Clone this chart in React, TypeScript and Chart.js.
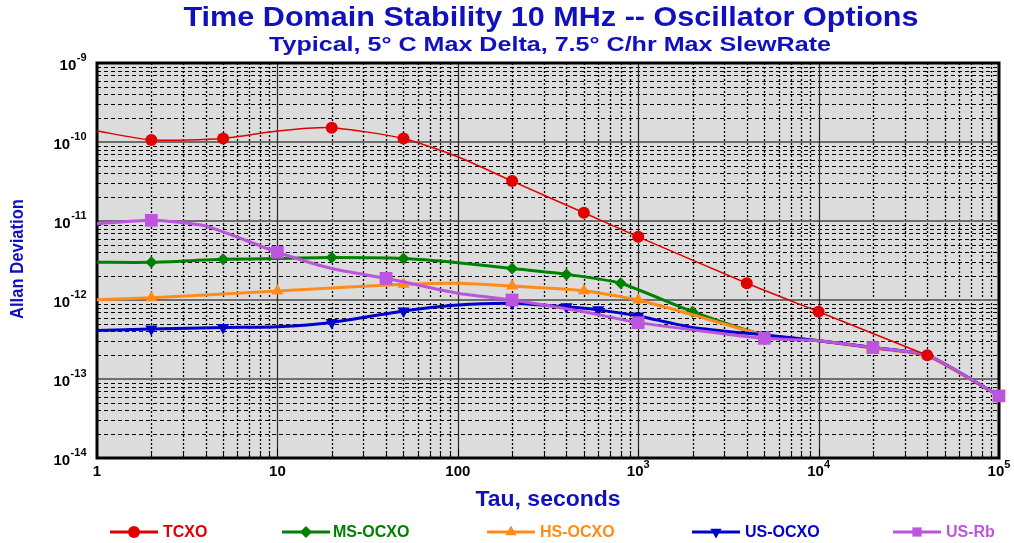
import { useEffect, useRef } from "react";
import { Chart, registerables } from "chart.js";

Chart.register(...registerables);

// ---------- text ----------
const TITLE = "Time Domain Stability 10 MHz -- Oscillator Options";
const SUBTITLE = "Typical, 5° C Max Delta, 7.5° C/hr Max SlewRate";
const X_TITLE = "Tau, seconds";
const Y_TITLE = "Allan Deviation";

// ---------- data ----------
const SERIES_NAMES = ["TCXO", "MS-OCXO", "HS-OCXO", "US-OCXO", "US-Rb"];

const TCXO_TAU = [1, 2, 5, 10, 20, 50, 100, 200, 500, 1000, 4000, 10000, 40000];
const TCXO_VAL = [1.38e-10, 1.06e-10, 1.11e-10, 1.38e-10, 1.52e-10, 1.11e-10, 6.5e-11, 3.2e-11, 1.27e-11, 6.3e-12, 1.63e-12, 7.1e-13, 2.0e-13];
const TCXO_MARK = [2, 5, 20, 50, 200, 500, 1000, 4000, 10000, 40000];

const MSOCXO_TAU = [1, 2, 5, 10, 20, 50, 100, 200, 400, 800, 2000, 5000, 10000, 20000, 40000, 100000];
const MSOCXO_VAL = [3.0e-12, 3.0e-12, 3.27e-12, 3.35e-12, 3.44e-12, 3.35e-12, 2.97e-12, 2.51e-12, 2.11e-12, 1.63e-12, 7.1e-13, 3.6e-13, 3.05e-13, 2.5e-13, 2.0e-13, 6.1e-14];
const MSOCXO_MARK = [2, 5, 20, 50, 200, 400, 800, 2000];

const HSOCXO_TAU = [1, 2, 10, 50, 100, 200, 500, 1000, 2000, 5000, 10000, 20000, 40000, 100000];
const HSOCXO_VAL = [1.01e-12, 1.07e-12, 1.3e-12, 1.58e-12, 1.63e-12, 1.5e-12, 1.31e-12, 1.0e-12, 6.5e-13, 3.6e-13, 3.05e-13, 2.45e-13, 1.95e-13, 6.1e-14];
const HSOCXO_MARK = [2, 10, 50, 200, 500, 1000];

const USOCXO_TAU = [1, 2, 5, 10, 20, 50, 100, 200, 400, 600, 1000, 2000, 5000, 10000, 20000, 40000, 100000];
const USOCXO_VAL = [4.1e-13, 4.3e-13, 4.5e-13, 4.6e-13, 5.2e-13, 7.26e-13, 8.65e-13, 9.1e-13, 8.2e-13, 7.5e-13, 6.27e-13, 4.5e-13, 3.6e-13, 3.05e-13, 2.5e-13, 2.0e-13, 6.1e-14];
const USOCXO_MARK = [2, 5, 20, 50, 200, 400, 600, 1000, 5000];

const USRB_TAU = [1, 2, 4, 10, 20, 40, 100, 200, 500, 1000, 5000, 10000, 20000, 40000, 100000];
const USRB_VAL = [9.2e-12, 1.02e-11, 8.65e-12, 4.02e-12, 2.5e-12, 1.88e-12, 1.22e-12, 1.0e-12, 7.1e-13, 5.17e-13, 3.27e-13, 3.05e-13, 2.5e-13, 2.0e-13, 6.1e-14];
const USRB_MARK = [2, 10, 40, 200, 1000, 5000, 20000, 100000];

const X_TICKS = [1, 10, 100, 1000, 10000, 100000];
const X_TICK_BASE = ["1", "10", "100", "10", "10", "10"];
const X_TICK_EXP = ["", "", "", "3", "4", "5"];
const Y_TICKS = [1e-9, 1e-10, 1e-11, 1e-12, 1e-13, 1e-14];
const Y_TICK_BASE = ["10", "10", "10", "10", "10", "10"];
const Y_TICK_EXP = ["-9", "-10", "-11", "-12", "-13", "-14"];

// ---------- styles ----------
const COLORS = ["#e00000", "#008000", "#ff8c1a", "#0000cc", "#bb55dd"];
const TITLE_COLOR = "#1010c0";
const FONT = "'Liberation Sans', Arial, sans-serif";

type Marker = "circle" | "diamond" | "tri" | "triDown" | "square";
const MARKERS: Marker[] = ["circle", "diamond", "tri", "triDown", "square"];
const MARKER_R = [6, 6, 7, 7, 9];
const LINE_W = [1.5, 3, 3, 3, 3];
const LEGEND_LINE_X = [110, 282, 487, 692, 893];
const LEGEND_TEXT_X = [163, 333, 540, 745, 946];

function drawMarker(ctx: CanvasRenderingContext2D, kind: Marker, x: number, y: number, r: number, color: string) {
  ctx.save();
  ctx.fillStyle = color;
  ctx.beginPath();
  if (kind === "circle") {
    ctx.arc(x, y, r, 0, Math.PI * 2);
  } else if (kind === "diamond") {
    ctx.moveTo(x, y - r);
    ctx.lineTo(x + r, y);
    ctx.lineTo(x, y + r);
    ctx.lineTo(x - r, y);
    ctx.closePath();
  } else if (kind === "tri" || kind === "triDown") {
    const s = kind === "tri" ? 1 : -1;
    for (let i = 0; i < 3; i++) {
      const a = -Math.PI / 2 + (i * 2 * Math.PI) / 3;
      const px = x + r * Math.cos(a);
      const py = y + s * r * Math.sin(a);
      if (i === 0) ctx.moveTo(px, py);
      else ctx.lineTo(px, py);
    }
    ctx.closePath();
  } else {
    const h = r * Math.SQRT1_2;
    ctx.rect(x - h, y - h, 2 * h, 2 * h);
  }
  ctx.fill();
  ctx.restore();
}

function drawFitText(
  ctx: CanvasRenderingContext2D,
  text: string,
  x: number,
  y: number,
  font: string,
  color: string,
  align: CanvasTextAlign,
  width?: number,
  rotate?: number
) {
  ctx.save();
  ctx.font = font;
  ctx.fillStyle = color;
  ctx.textBaseline = "middle";
  ctx.textAlign = align;
  const w = ctx.measureText(text).width;
  ctx.translate(x, y);
  if (rotate) ctx.rotate(rotate);
  if (width) ctx.scale(width / w, 1);
  ctx.fillText(text, 0, 0);
  ctx.restore();
}

const gridPlugin = {
  id: "customGrid",
  beforeDatasetsDraw(chart: any) {
    const { ctx, chartArea: a, scales } = chart;
    const x = scales.x;
    const y = scales.y;
    ctx.save();
    ctx.fillStyle = "#dcdcdc";
    ctx.fillRect(a.left, a.top, a.right - a.left, a.bottom - a.top);

    // minor horizontal dashed
    ctx.strokeStyle = "#000000";
    ctx.lineWidth = 1;
    ctx.setLineDash([4, 3]);
    for (let e = -14; e < -9; e++) {
      for (let m = 2; m <= 9; m++) {
        const py = Math.round(y.getPixelForValue(m * Math.pow(10, e))) + 0.5;
        ctx.beginPath();
        ctx.moveTo(a.left, py);
        ctx.lineTo(a.right, py);
        ctx.stroke();
      }
    }
    // minor vertical dotted
    ctx.setLineDash([2, 2]);
    ctx.lineWidth = 1.3;
    for (let e = 0; e < 5; e++) {
      for (let m = 2; m <= 9; m++) {
        const px = Math.round(x.getPixelForValue(m * Math.pow(10, e))) + 0.5;
        ctx.beginPath();
        ctx.moveTo(px, a.top);
        ctx.lineTo(px, a.bottom);
        ctx.stroke();
      }
    }
    ctx.setLineDash([]);
    // decade horizontal
    ctx.strokeStyle = "#6e6e6e";
    ctx.lineWidth = 2;
    for (let e = -13; e <= -10; e++) {
      const py = Math.round(y.getPixelForValue(Math.pow(10, e)));
      ctx.beginPath();
      ctx.moveTo(a.left, py);
      ctx.lineTo(a.right, py);
      ctx.stroke();
    }
    // decade vertical
    ctx.strokeStyle = "#2a2a2a";
    ctx.lineWidth = 1.2;
    for (let e = 1; e <= 4; e++) {
      const px = Math.round(x.getPixelForValue(Math.pow(10, e))) + 0.5;
      ctx.beginPath();
      ctx.moveTo(px, a.top);
      ctx.lineTo(px, a.bottom);
      ctx.stroke();
    }
    // bottom minor ticks
    ctx.strokeStyle = "#000000";
    ctx.lineWidth = 1;
    for (let e = 0; e < 5; e++) {
      for (let m = 1; m <= 9; m++) {
        const px = Math.round(x.getPixelForValue(m * Math.pow(10, e))) + 0.5;
        ctx.beginPath();
        ctx.moveTo(px, a.bottom);
        ctx.lineTo(px, a.bottom - (m === 1 ? 9 : 6));
        ctx.stroke();
      }
    }
    // border
    ctx.strokeStyle = "#000000";
    ctx.lineWidth = 3;
    ctx.strokeRect(a.left, a.top, a.right - a.left, a.bottom - a.top);
    ctx.restore();
  },
  afterDraw(chart: any) {
    const { ctx, scales } = chart;
    const x = scales.x;
    const y = scales.y;

    drawFitText(ctx, TITLE, 551, 18, `bold 28px ${FONT}`, TITLE_COLOR, "center", 735);
    drawFitText(ctx, SUBTITLE, 550, 45, `bold 21px ${FONT}`, TITLE_COLOR, "center", 562);
    drawFitText(ctx, X_TITLE, 548, 500, `bold 22px ${FONT}`, TITLE_COLOR, "center", 145);
    drawFitText(ctx, Y_TITLE, 18, 259, `bold 19px ${FONT}`, TITLE_COLOR, "center", 120, -Math.PI / 2);

    const baseFont = `bold 15px ${FONT}`;
    const expFont = `bold 11px ${FONT}`;
    ctx.save();
    ctx.fillStyle = "#000000";
    ctx.textBaseline = "middle";
    ctx.textAlign = "left";
    // x tick labels
    X_TICKS.forEach((v, i) => {
      const px = x.getPixelForValue(v);
      ctx.font = baseFont;
      const bw = ctx.measureText(X_TICK_BASE[i]).width;
      ctx.font = expFont;
      const ew = X_TICK_EXP[i] ? ctx.measureText(X_TICK_EXP[i]).width : 0;
      const start = px - (bw + ew) / 2;
      ctx.font = baseFont;
      ctx.fillText(X_TICK_BASE[i], start, 472);
      if (ew) {
        ctx.font = expFont;
        ctx.fillText(X_TICK_EXP[i], start + bw, 465);
      }
    });
    // y tick labels
    Y_TICKS.forEach((v, i) => {
      const py = y.getPixelForValue(v);
      ctx.font = baseFont;
      const bw = ctx.measureText(Y_TICK_BASE[i]).width;
      ctx.font = expFont;
      const ew = ctx.measureText(Y_TICK_EXP[i]).width;
      const start = 86 - bw - ew;
      ctx.font = baseFont;
      ctx.fillText(Y_TICK_BASE[i], start, py + 3);
      ctx.font = expFont;
      ctx.fillText(Y_TICK_EXP[i], start + bw + 0.5, py - 5);
    });
    ctx.restore();

    // legend
    SERIES_NAMES.forEach((name, i) => {
      const x1 = LEGEND_LINE_X[i];
      const x2 = x1 + 48;
      const ly = 532;
      ctx.save();
      ctx.strokeStyle = COLORS[i];
      ctx.lineWidth = 3;
      ctx.beginPath();
      ctx.moveTo(x1, ly);
      ctx.lineTo(x2, ly);
      ctx.stroke();
      ctx.restore();
      drawMarker(ctx, MARKERS[i], (x1 + x2) / 2, ly, Math.min(MARKER_R[i], 6.5), COLORS[i]);
      drawFitText(ctx, name, LEGEND_TEXT_X[i], ly + 1, `bold 16px ${FONT}`, COLORS[i], "left");
    });
  },
};

function makeDataset(idx: number, taus: number[], vals: number[], marks: number[], order: number) {
  const pointStyle = ["circle", "rectRot", "triangle", "triangle", "rect"][idx];
  return {
    label: SERIES_NAMES[idx],
    data: taus.map((t, i) => ({ x: t, y: vals[i] })),
    borderColor: COLORS[idx],
    backgroundColor: COLORS[idx],
    borderWidth: LINE_W[idx],
    pointStyle,
    pointRotation: idx === 3 ? 180 : 0,
    pointRadius: (c: any) => (marks.includes(taus[c.dataIndex]) ? MARKER_R[idx] : 0),
    pointBorderWidth: 0,
    pointBackgroundColor: COLORS[idx],
    pointBorderColor: COLORS[idx],
    tension: 0.2,
    clip: false as const,
    order,
  };
}

export default function App() {
  const ref = useRef<HTMLCanvasElement | null>(null);
  useEffect(() => {
    document.body.style.margin = "0";
    const canvas = ref.current;
    if (!canvas) return;
    const chart = new Chart(canvas, {
      type: "line",
      data: {
        datasets: [
          makeDataset(0, TCXO_TAU, TCXO_VAL, TCXO_MARK, 0),
          makeDataset(1, MSOCXO_TAU, MSOCXO_VAL, MSOCXO_MARK, 4),
          makeDataset(2, HSOCXO_TAU, HSOCXO_VAL, HSOCXO_MARK, 3),
          makeDataset(3, USOCXO_TAU, USOCXO_VAL, USOCXO_MARK, 2),
          makeDataset(4, USRB_TAU, USRB_VAL, USRB_MARK, 1),
        ] as any,
      },
      options: {
        animation: false,
        responsive: false,
        devicePixelRatio: 1,
        layout: { padding: { left: 97, right: 15, top: 63, bottom: 85 }, autoPadding: false } as any,
        plugins: { legend: { display: false }, tooltip: { enabled: false }, title: { display: false } },
        elements: { line: { fill: false } },
        scales: {
          x: { type: "logarithmic", min: 1, max: 100000, display: false },
          y: { type: "logarithmic", min: 1e-14, max: 1e-9, display: false },
        },
      },
      plugins: [gridPlugin],
    });
    return () => chart.destroy();
  }, []);
  return (
    <div style={{ width: 1014, height: 543, position: "relative", background: "#ffffff" }}>
      <canvas ref={ref} width={1014} height={543} style={{ display: "block" }} />
    </div>
  );
}
